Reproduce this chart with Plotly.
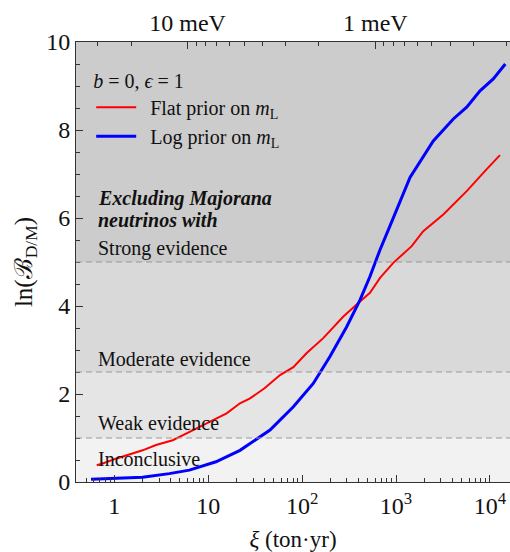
import math
import plotly.graph_objects as go

# ---------------- data ----------------
xi_flat = [0.65, 0.75, 1.04, 1.57, 2.0, 2.78, 4.19, 5.81, 8.04, 12.1, 15.7, 21.8, 27.9,
           39.8, 58.2, 80.7, 112, 168, 275, 414, 528, 676, 935, 1469, 1950, 3190,
           5660, 9250, 12800]
lnB_flat = [0.38, 0.42, 0.53, 0.65, 0.72, 0.84, 0.95, 1.10, 1.25, 1.45, 1.56, 1.79, 1.90,
            2.13, 2.43, 2.61, 2.93, 3.27, 3.76, 4.10, 4.30, 4.64, 4.98, 5.36, 5.70, 6.08,
            6.61, 7.11, 7.43]

xi_log = [0.565, 1.04, 2.0, 3.85, 6.3, 12.1, 21.8, 45.5, 80.7, 131.5, 198, 298.5, 414,
          528, 676, 863, 1410, 2495, 4074, 5660, 7850, 10860, 14590]
lnB_log = [0.06, 0.08, 0.11, 0.19, 0.27, 0.46, 0.72, 1.18, 1.71, 2.24, 2.85, 3.53, 4.14,
           4.67, 5.28, 5.82, 6.92, 7.75, 8.25, 8.52, 8.89, 9.16, 9.50]

evidence_levels = [1.0, 2.5, 5.0]
band_edges = [0, 1.0, 2.5, 5.0, 10.0]
band_colors = ["#f2f2f2", "#e5e5e5", "#d9d9d9", "#cccccc"]
band_labels = ["Inconclusive", "Weak evidence", "Moderate evidence", "Strong evidence"]
band_label_y = [0.52, 1.34, 2.80, 5.30]

x_major = [1, 10, 100, 1000, 10000]
x_major_text = ["1", "10", "10<sup>2</sup>", "10<sup>3</sup>", "10<sup>4</sup>"]
x_minor = [0.4, 0.5, 0.6, 0.7, 0.8, 0.9] + [m * 10 ** d for d in range(0, 4) for m in range(2, 10)]

# top axis: neutrino mass in meV, xi = XI_AT_1MEV / m^2
XI_AT_1MEV = 603.0
top_major_mev = [10, 1]
top_major_text = ["10 meV", "1 meV"]
top_minor_mev = [30, 20, 9, 8, 7, 6, 5, 4, 3, 2, 0.9, 0.8, 0.7, 0.6, 0.5, 0.4, 0.3, 0.2]

X_RANGE = [-0.408, 4.214]
FONT = "Liberation Serif"
INK = "#111111"
GAP = "\u00a0\u2009"

def mev_to_xi(m):
    return XI_AT_1MEV / m ** 2

fig = go.Figure()
fig.add_trace(go.Scatter(x=xi_flat, y=lnB_flat, mode="lines",
                         line=dict(color="#ff0000", width=2),
                         name=GAP + "Flat prior on <i>m</i><sub>L</sub>"))
fig.add_trace(go.Scatter(x=xi_log, y=lnB_log, mode="lines",
                         line=dict(color="#0000ff", width=3),
                         name=GAP + "Log prior on <i>m</i><sub>L</sub>"))
# carrier for the top axis
fig.add_trace(go.Scatter(x=xi_flat, y=lnB_flat, mode="lines", xaxis="x2",
                         line=dict(width=0, color="rgba(0,0,0,0)"), showlegend=False,
                         hoverinfo="skip"))

shapes = []
for i, c in enumerate(band_colors):
    shapes.append(dict(type="rect", xref="paper", yref="y", x0=0, x1=1,
                       y0=band_edges[i], y1=band_edges[i + 1], fillcolor=c,
                       line=dict(width=0), layer="below"))
for lv in evidence_levels:
    shapes.append(dict(type="line", xref="paper", yref="y", x0=0, x1=1, y0=lv, y1=lv,
                       line=dict(color="#999999", width=1, dash="6px,4px"), layer="above"))

annotations = []
for lab, yy in zip(band_labels, band_label_y):
    annotations.append(dict(text=lab, xref="paper", yref="y", x=0.045, y=yy,
                            xanchor="left", yanchor="middle", showarrow=False,
                            font=dict(family=FONT, size=20, color=INK)))
annotations.append(dict(text="<b><i>Excluding Majorana</i></b>", xref="paper", yref="y",
                        x=0.045, y=6.45, xanchor="left", yanchor="middle", showarrow=False,
                        font=dict(family=FONT, size=20, color=INK)))
annotations.append(dict(text="<b><i>neutrinos with</i></b>", xref="paper", yref="y",
                        x=0.045, y=5.95, xanchor="left", yanchor="middle", showarrow=False,
                        font=dict(family=FONT, size=20, color=INK)))

axis_common = dict(showline=True, linecolor="#333333", linewidth=1, ticks="inside",
                   tickcolor="#333333", showgrid=False, zeroline=False,
                   tickfont=dict(family=FONT, size=24, color=INK))

fig.update_layout(
    width=510, height=552,
    margin=dict(l=76, r=0, t=42, b=70),
    paper_bgcolor="white", plot_bgcolor="#cccccc",
    shapes=shapes, annotations=annotations,
    font=dict(family=FONT, color=INK),
    xaxis=dict(type="log", range=X_RANGE, tickmode="array", tickvals=x_major,
               ticktext=x_major_text, ticklen=7, ticklabelstandoff=2,
               minor=dict(tickmode="array", tickvals=x_minor, ticks="inside", ticklen=4,
                          tickcolor="#333333"),
               title=dict(text="<i>ξ</i> (ton·yr)", font=dict(family=FONT, size=23, color=INK),
                          standoff=14),
               **axis_common),
    xaxis2=dict(type="log", range=X_RANGE, overlaying="x", side="top", tickmode="array",
                tickvals=[mev_to_xi(m) for m in top_major_mev], ticktext=top_major_text,
                ticklen=7,
                minor=dict(tickmode="array", tickvals=[mev_to_xi(m) for m in top_minor_mev],
                           ticks="inside", ticklen=4, tickcolor="#333333"),
                **axis_common),
    yaxis=dict(range=[0, 10], tickmode="linear", tick0=0, dtick=2, ticklen=7,
               minor=dict(dtick=0.5, ticks="inside", ticklen=4, tickcolor="#333333"),
               title=dict(text="ln(ℬ<sub>D/M</sub>)", font=dict(family=FONT, size=25, color=INK),
                          standoff=6),
               **axis_common),
    legend=dict(x=0.035, y=0.955, xanchor="left", yanchor="top", bgcolor="rgba(0,0,0,0)",
                font=dict(family=FONT, size=20, color=INK),
                title=dict(text="<i>b</i> = 0, <i>ϵ</i> = 1",
                           font=dict(family=FONT, size=20, color=INK)),
                itemwidth=40, tracegroupgap=0),
    showlegend=True,
)

fig.write_html("out.html")
